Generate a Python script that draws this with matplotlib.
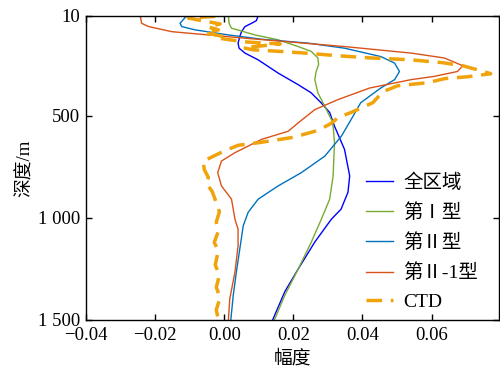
import matplotlib
matplotlib.use("Agg")
import matplotlib.pyplot as plt
from matplotlib.ticker import FixedLocator, FuncFormatter

plt.rcParams['font.family'] = ['Liberation Serif', 'Noto Sans CJK SC']
plt.rcParams['axes.unicode_minus'] = True

# 全区域
all_amp = [0.0098, 0.0093, 0.0079, 0.0060, 0.0050, 0.0045, 0.0040, 0.0043, 0.0060, 0.0098,
           0.0156, 0.0214, 0.0251, 0.0280, 0.0305, 0.0319, 0.0348, 0.0363, 0.0358, 0.0338,
           0.0310, 0.0262, 0.0214, 0.0175, 0.0140]
all_dep = [10, 33, 46, 62, 87, 111, 143, 168, 192, 225,
           290, 347, 386, 435, 483, 550, 664, 794, 874, 957,
           1006, 1118, 1250, 1362, 1500]

# 第Ⅰ型
t1_amp = [0.0012, 0.0014, 0.0021, 0.0089, 0.0156, 0.0214, 0.0252, 0.0271, 0.0273, 0.0266,
          0.0262, 0.0271, 0.0291, 0.0310, 0.0315, 0.0319, 0.0315, 0.0305, 0.0281, 0.0252,
          0.0214, 0.0175, 0.0145]
t1_dep = [10, 46, 70, 103, 127, 160, 184, 216, 249, 282,
          322, 387, 453, 518, 550, 630, 794, 908, 1006, 1118,
          1250, 1380, 1500]

# 第Ⅱ型
t2_amp = [-0.0109, -0.0128, -0.0123, -0.0085, 0.0012, 0.0108, 0.0242, 0.0348, 0.0453, 0.0493,
          0.0507, 0.0493, 0.0453, 0.0395, 0.0367, 0.0339, 0.0291, 0.0223, 0.0156, 0.0098,
          0.0069, 0.0055, 0.0045, 0.0035, 0.0026, 0.0019]
t2_dep = [10, 46, 62, 78, 103, 124, 143, 168, 209, 241,
          282, 322, 363, 435, 518, 599, 697, 778, 843, 908,
          973, 1038, 1152, 1266, 1380, 1500]

# 第Ⅱ-1型
t21_amp = [-0.0243, -0.0239, -0.0219, -0.0152, 0.0060, 0.0348, 0.0541, 0.0637, 0.0690, 0.0675,
           0.0608, 0.0541, 0.0421, 0.0329, 0.0262, 0.0214, 0.0185, 0.0108, 0.0031, -0.0008,
           -0.0019, -0.0008, 0.0021, 0.0031, 0.0040, 0.0040, 0.0031, 0.0016, 0.0012]
t21_dep = [10, 46, 62, 87, 119, 160, 192, 216, 254, 282,
           306, 322, 363, 420, 469, 534, 575, 615, 680, 721,
           778, 843, 908, 1006, 1055, 1136, 1266, 1396, 1500]

# CTD
ctd_amp = [-0.0026, -0.0104, -0.0075, -0.0012, -0.0046, -0.0017, -0.0055, -0.0009, -0.0023, 0.0017,
           0.0061, 0.0104, 0.0162, 0.0055, 0.0084, 0.0185, 0.0242, 0.0329, 0.0416, 0.0540,
           0.0632, 0.0690, 0.0733, 0.0771, 0.0704, 0.0638, 0.0589, 0.0502, 0.0459, 0.0430,
           0.0367, 0.0329, 0.0309, 0.0271, 0.0199, 0.0104, 0.0040, -0.0003, -0.0061, -0.0058,
           -0.0046, -0.0052, -0.0035, -0.0023, -0.0014, -0.0023, -0.0017, -0.0029, -0.0017, -0.0026,
           -0.0014, -0.0023, -0.0012, -0.0023, -0.0017]
ctd_dep = [12, 20, 30, 49, 64, 78, 93, 108, 117, 127,
           137, 142, 147, 166, 176, 186, 193, 205, 215, 225,
           239, 254, 274, 293, 308, 317, 337, 352, 381, 435,
           483, 508, 537, 571, 605, 630, 644, 674, 722, 762,
           801, 830, 870, 925, 970, 1020, 1065, 1120, 1160, 1230,
           1280, 1340, 1390, 1450, 1500]

x_ticks = [-0.04, -0.02, 0.00, 0.02, 0.04, 0.06]
y_ticks = [10, 500, 1000, 1500]
y_labels = ['10', '500', '1 000', '1 500']

fig = plt.figure(figsize=(5.0, 3.71), dpi=100)
ax = fig.add_axes([0.172, 0.1375, 0.826, 0.8195])

ax.plot(all_amp, all_dep, color='#0000ff', lw=1.0, label='全区域')
ax.plot(t1_amp, t1_dep, color='#77ac30', lw=1.0, label='第Ⅰ型')
ax.plot(t2_amp, t2_dep, color='#0072bd', lw=1.0, label='第Ⅱ型')
ax.plot(t21_amp, t21_dep, color='#d95319', lw=1.0, label='第Ⅱ-1型')
ax.plot(ctd_amp, ctd_dep, color='#f0a30a', lw=2.5, dashes=(4.5, 2.5), label='CTD')

ax.set_xlim(-0.04, 0.0795)
ax.set_ylim(1500, 10)
ax.xaxis.set_major_locator(FixedLocator(x_ticks))
ax.xaxis.set_major_formatter(FuncFormatter(lambda v, p: f"{v:.2f}".replace('-', '\u2212')))
ax.set_yticks(y_ticks)
ax.set_yticklabels(y_labels)
ax.tick_params(direction='in', top=True, right=True, labelsize=13.5, length=4, width=1)
ax.tick_params(axis='x', pad=5)
ax.tick_params(axis='y', pad=4)
for s in ax.spines.values():
    s.set_linewidth(1.0)

ax.set_xlabel('幅度', fontsize=13.5, labelpad=4)
ax.set_ylabel('深度/m', fontsize=13.5, labelpad=3)

ax.legend(loc='lower right', frameon=False, fontsize=14, handlelength=1.4,
          handletextpad=0.5, labelspacing=0.58, borderaxespad=0.05,
          bbox_to_anchor=(0.97, 0.0))

fig.savefig('out.png', dpi=100)
